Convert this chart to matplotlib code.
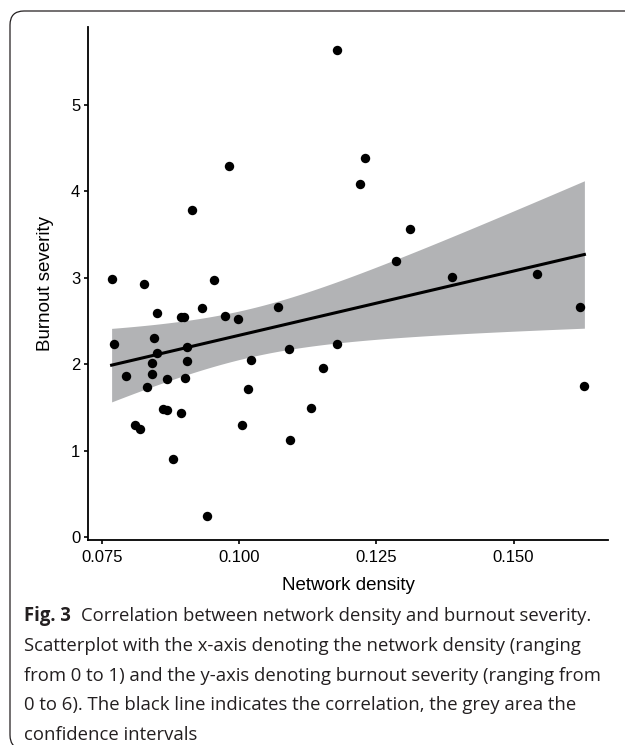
import numpy as np
import matplotlib.pyplot as plt
from matplotlib.patches import FancyBboxPatch
from matplotlib.transforms import IdentityTransform

# network density per participant and burnout severity score
density = [0.0768, 0.0827, 0.0851, 0.0894, 0.0900, 0.0933, 0.0954, 0.0914, 0.0982, 0.0975,
           0.0998, 0.0772, 0.0845, 0.0851, 0.0842, 0.0905, 0.0905, 0.0794, 0.0842, 0.0869,
           0.0902, 0.0833, 0.0862, 0.0869, 0.0894, 0.0811, 0.0820, 0.0880, 0.0942, 0.1021,
           0.1017, 0.1006, 0.1178, 0.1229, 0.1221, 0.1311, 0.1286, 0.1387, 0.1542, 0.1621,
           0.1629, 0.1071, 0.1091, 0.1179, 0.1153, 0.1132, 0.1093]
burnout = [2.985, 2.935, 2.59, 2.55, 2.55, 2.65, 2.98, 3.79, 4.29, 2.56,
           2.53, 2.24, 2.30, 2.13, 2.02, 2.20, 2.04, 1.86, 1.89, 1.83,
           1.84, 1.74, 1.49, 1.47, 1.44, 1.30, 1.25, 0.91, 0.25, 2.05,
           1.72, 1.30, 5.63, 4.39, 4.09, 3.57, 3.20, 3.01, 3.04, 2.66,
           1.75, 2.66, 2.18, 2.23, 1.96, 1.50, 1.13]

xticks = [0.075, 0.100, 0.125, 0.150]
xticklabels = ['0.075', '0.100', '0.125', '0.150']
yticks = [0, 1, 2, 3, 4, 5]

caption_bold = 'Fig. 3'
caption_lines = [
    'Correlation between network density and burnout severity.',
    'Scatterplot with the x-axis denoting the network density (ranging',
    'from 0 to 1) and the y-axis denoting burnout severity (ranging from',
    '0 to 6). The black line indicates the correlation, the grey area the',
    'confidence intervals',
]

W, H = 625, 745
fig = plt.figure(figsize=(W / 100, H / 100), dpi=100)

# linear fit with 95% confidence band (like geom_smooth(method='lm'))
x = np.array(density)
y = np.array(burnout)
slope, icpt = np.polyfit(x, y, 1)
n = len(x)
resid = y - (icpt + slope * x)
s = np.sqrt(np.sum(resid ** 2) / (n - 2))
xm = x.mean()
xs = np.linspace(x.min(), x.max(), 100)
yhat = icpt + slope * xs
se = s * np.sqrt(1 / n + (xs - xm) ** 2 / np.sum((x - xm) ** 2))
t_crit = 2.014  # t(0.975, df=45)

ax = fig.add_axes([88 / W, (H - 540) / H, 520 / W, 513 / H])
ax.fill_between(xs, yhat - t_crit * se, yhat + t_crit * se, color='#b2b3b5', lw=0, zorder=1)
ax.plot(xs, yhat, color='black', lw=2.2, zorder=2)
ax.scatter(x, y, s=46, color='black', lw=0, zorder=3)

ax.set_xlim(0.0725, 0.1672)
ax.set_ylim(-0.03, 5.9)
ax.set_xticks(xticks)
ax.set_xticklabels(xticklabels)
ax.set_yticks(yticks)
for side in ['top', 'right']:
    ax.spines[side].set_visible(False)
for side in ['left', 'bottom']:
    ax.spines[side].set_linewidth(1.3)
ax.tick_params(length=3, width=1.2, labelsize=12, colors='black')
ax.tick_params(axis='x', pad=4)
ax.tick_params(axis='y', pad=2.5)
for lab in ax.get_xticklabels() + ax.get_yticklabels():
    lab.set_family('Liberation Sans')

ax.set_xlabel('Network density', fontsize=13.5, family='Liberation Sans', va='center')
ax.xaxis.set_label_coords(0.5, (540 - 586) / 513)
ax.set_ylabel('Burnout severity', fontsize=13.5, family='Liberation Sans', va='center')
ax.yaxis.set_label_coords((45 - 88) / 520, 0.5)

# rounded frame around figure + caption
frame = FancyBboxPatch((10, -4), 900, H - 11 + 4, boxstyle='round,pad=0,rounding_size=14',
                       transform=IdentityTransform(), fill=False, ec='#231f20', lw=0.9)
fig.add_artist(frame)

renderer = fig.canvas.get_renderer()
cap_font = 'Open Sans'
size = 14
probe = fig.text(0, 0, caption_lines[2], fontsize=size, family=cap_font)
wid = probe.get_window_extent(renderer).width
probe.remove()
size = size * 581 / wid

x0 = 24
y0 = 616
step = 29.8
bold = fig.text(x0 / W, 1 - y0 / H, caption_bold, fontsize=size, family=cap_font,
                weight='bold', va='center', color='#231f20')
bw = bold.get_window_extent(renderer).width
fig.text((x0 + bw + 10) / W, 1 - y0 / H, caption_lines[0], fontsize=size, family=cap_font,
         va='center', color='#231f20')
for i, line in enumerate(caption_lines[1:], start=1):
    fig.text(x0 / W, 1 - (y0 + step * i) / H, line, fontsize=size, family=cap_font,
             va='center', color='#231f20')

fig.savefig('out.png', dpi=100)
